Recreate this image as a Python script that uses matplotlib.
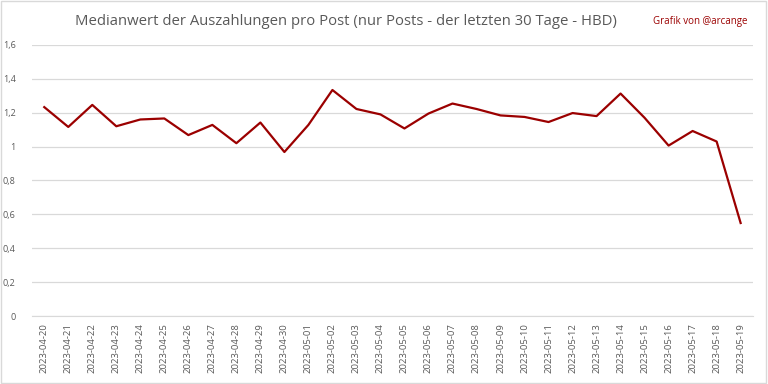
import matplotlib
matplotlib.use("Agg")
import matplotlib.pyplot as plt
from matplotlib.patches import Rectangle
from matplotlib.ticker import FuncFormatter

dates = ["2023-04-20", "2023-04-21", "2023-04-22", "2023-04-23", "2023-04-24",
         "2023-04-25", "2023-04-26", "2023-04-27", "2023-04-28", "2023-04-29",
         "2023-04-30", "2023-05-01", "2023-05-02", "2023-05-03", "2023-05-04",
         "2023-05-05", "2023-05-06", "2023-05-07", "2023-05-08", "2023-05-09",
         "2023-05-10", "2023-05-11", "2023-05-12", "2023-05-13", "2023-05-14",
         "2023-05-15", "2023-05-16", "2023-05-17", "2023-05-18", "2023-05-19"]
median_hbd = [1.233, 1.116, 1.246, 1.12, 1.16, 1.166, 1.068, 1.128, 1.02, 1.142,
              0.968, 1.128, 1.334, 1.222, 1.19, 1.107, 1.195, 1.254, 1.222, 1.184,
              1.175, 1.145, 1.198, 1.18, 1.313, 1.17, 1.006, 1.092, 1.03, 0.549]
yticks = [0, 0.2, 0.4, 0.6, 0.8, 1.0, 1.2, 1.4, 1.6]

plt.rcParams['font.family'] = ['Open Sans', 'DejaVu Sans']

fig = plt.figure(figsize=(7.68, 3.84), dpi=100)
ax = fig.add_axes([0.042, 0.177, 0.938, 0.706])

x = range(len(dates))
ax.plot(x, median_hbd, color='#9b0000', linewidth=1.6)

ax.set_xlim(-0.5, len(dates) - 0.5)
ax.set_ylim(0, 1.6)
ax.set_yticks(yticks)
ax.yaxis.set_major_formatter(FuncFormatter(lambda v, p: ('%g' % round(v, 1)).replace('.', ',')))
ax.set_xticks(list(x))
ax.set_xticklabels(dates, rotation=90)
ax.tick_params(axis='both', length=0, labelsize=6.5, colors='#595959')
ax.tick_params(axis='x', labelsize=6.8, pad=5)
ax.tick_params(axis='y', pad=12)
ax.grid(axis='y', color='#d9d9d9', linewidth=0.9)
ax.set_axisbelow(True)
for s in ['top', 'right', 'left']:
    ax.spines[s].set_visible(False)
ax.spines['bottom'].set_color('#d9d9d9')

fig.text(0.451, 0.945, "Medianwert der Auszahlungen pro Post (nur Posts - der letzten 30 Tage - HBD)",
         ha='center', va='center', fontsize=10.7, color='#595959')
fig.text(0.973, 0.945, "Grafik von @arcange", ha='right', va='center', fontsize=7, color='#9b0000')

fig.patches.append(Rectangle((0.001, 0.002), 0.997, 0.996, transform=fig.transFigure,
                             fill=False, edgecolor='#d9d9d9', linewidth=1))

fig.savefig("out.png", dpi=100)
